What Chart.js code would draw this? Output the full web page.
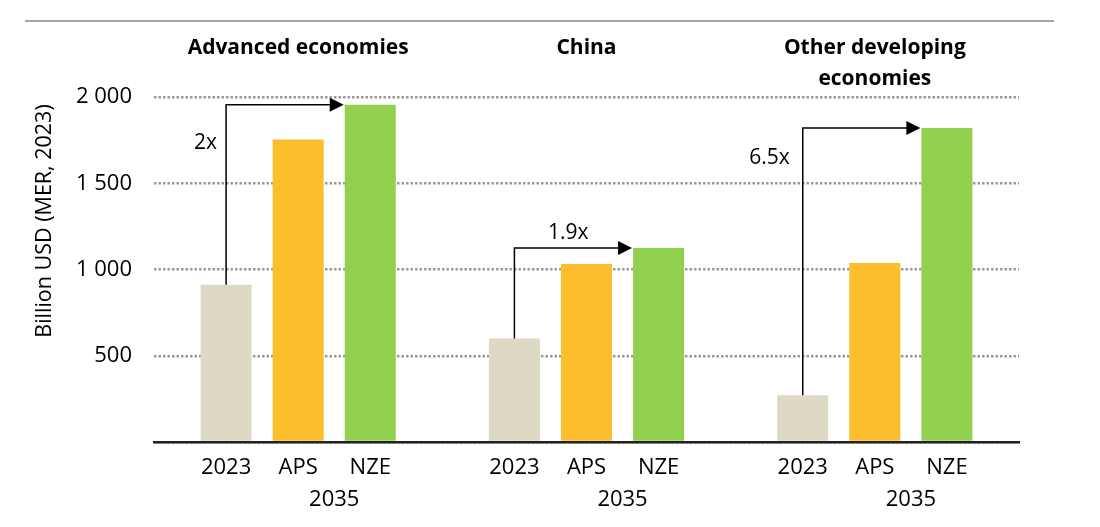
<!DOCTYPE html>
<html>
<head>
<meta charset="utf-8">
<script src="https://cdn.jsdelivr.net/npm/chart.js@4"></script>
<style>
  html, body { margin: 0; padding: 0; background: #fff; }
  #wrap { width: 1100px; height: 527px; position: relative; }
</style>
</head>
<body>
<div id="wrap"><canvas id="chart"></canvas></div>
<script>
// data
const groups = ["Advanced economies", "China", "Other developing economies"];
const groupTitleLines = [["Advanced economies"], ["China"], ["Other developing", "economies"]];
const scenarios = ["2023", "APS", "NZE"];
const subLabel = "2035";
const advanced = [912, 1753, 1955];
const china = [600, 1032, 1125];
const otherDev = [271, 1038, 1820];
const multiples = ["2x", "1.9x", "6.5x"];
const yTitle = "Billion USD (MER, 2023)";

const COLORS = ["#DDD9C4", "#FDBE2D", "#92D050"];
const FONT = "'Open Sans', 'Liberation Sans', sans-serif";

// build category slots: empty slot between groups and at each end
const labels = [""];
const values = [null];
const colors = ["#fff"];
[advanced, china, otherDev].forEach((g) => {
  g.forEach((v, i) => {
    labels.push(scenarios[i]);
    values.push(v);
    colors.push(COLORS[i]);
  });
  labels.push("");
  values.push(null);
  colors.push("#fff");
});

const fmt = (v) => String(v).replace(/\B(?=(\d{3})+(?!\d))/g, " ");

// extra drawing: top rule, group titles, 2035 labels, arrows, y title
const extras = {
  id: "extras",
  afterDraw(chart) {
    const { ctx, scales } = chart;
    const x = scales.x, y = scales.y;
    ctx.save();

    // top rule
    ctx.strokeStyle = "#a6a6a6";
    ctx.lineWidth = 2;
    ctx.beginPath();
    ctx.moveTo(25, 21);
    ctx.lineTo(1054, 21);
    ctx.stroke();

    // y axis title
    ctx.save();
    ctx.translate(45, 221);
    ctx.rotate(-Math.PI / 2);
    ctx.fillStyle = "#000";
    ctx.font = "21.5px " + FONT;
    ctx.textAlign = "center";
    ctx.textBaseline = "middle";
    ctx.fillText(yTitle, 0, 0);
    ctx.restore();

    const data = [advanced, china, otherDev];
    groups.forEach((g, gi) => {
      const base = 1 + gi * 4;
      const xA = x.getPixelForValue(base);
      const xB = x.getPixelForValue(base + 1);
      const xC = x.getPixelForValue(base + 2);

      // group title
      ctx.fillStyle = "#000";
      ctx.font = "bold 21px " + FONT;
      ctx.textAlign = "center";
      ctx.textBaseline = "middle";
      groupTitleLines[gi].forEach((ln, li) => ctx.fillText(ln, xB, 48 + li * 31));

      // 2035 under APS/NZE
      ctx.font = "22px " + FONT;
      ctx.fillText(subLabel, (xB + xC) / 2, 500);

      // arrow from 2023 bar top to NZE level
      const halfW = chart.getDatasetMeta(0).data[base + 2].width / 2;
      const y0 = y.getPixelForValue(data[gi][0]);
      const y1 = y.getPixelForValue(data[gi][2]);
      const tip = xC - halfW - 1;
      ctx.strokeStyle = "#000";
      ctx.lineWidth = 1.5;
      ctx.beginPath();
      ctx.moveTo(xA, y0);
      ctx.lineTo(xA, y1);
      ctx.lineTo(tip - 13, y1);
      ctx.stroke();
      ctx.fillStyle = "#000";
      ctx.beginPath();
      ctx.moveTo(tip, y1);
      ctx.lineTo(tip - 14, y1 - 7);
      ctx.lineTo(tip - 14, y1 + 7);
      ctx.closePath();
      ctx.fill();

      // multiplier label
      ctx.font = "21px " + FONT;
      if (gi === 1) {
        ctx.textAlign = "center";
        ctx.fillText(multiples[gi], (xA + tip) / 2 - 5, y1 - 15);
      } else {
        ctx.textAlign = "right";
        ctx.fillText(multiples[gi], xA - (gi === 0 ? 9 : 13), y1 + (gi === 0 ? 38 : 30));
      }
    });
    ctx.restore();
  },
};

new Chart(document.getElementById("chart"), {
  type: "bar",
  data: {
    labels,
    datasets: [
      {
        data: values,
        backgroundColor: colors,
        barPercentage: 0.708,
        categoryPercentage: 1,
      },
    ],
  },
  options: {
    responsive: true,
    maintainAspectRatio: false,
    animation: false,
    layout: { padding: { top: 97, right: 81, bottom: 0, left: 0 } },
    plugins: {
      legend: { display: false },
      tooltip: { enabled: false },
    },
    scales: {
      x: {
        offset: false,
        afterFit: (s) => { s.height = 85; },
        grid: { display: false, drawTicks: false },
        border: { display: true, color: "#222", width: 2.5 },
        ticks: {
          color: "#000",
          font: { family: FONT, size: 22 },
          padding: 13,
          autoSkip: false,
          maxRotation: 0,
        },
      },
      y: {
        min: 0,
        max: 2000,
        afterFit: (s) => { s.width = 154; },
        border: { display: false, dash: [2.5, 2] },
        grid: {
          color: "#999999",
          lineWidth: 2.5,
          drawTicks: false,
        },
        ticks: {
          stepSize: 500,
          color: "#000",
          padding: 22,
          font: { family: FONT, size: 22 },
          callback: (v) => (v === 0 ? "" : fmt(v)),
        },
      },
    },
  },
  plugins: [extras],
});
</script>
</body>
</html>
